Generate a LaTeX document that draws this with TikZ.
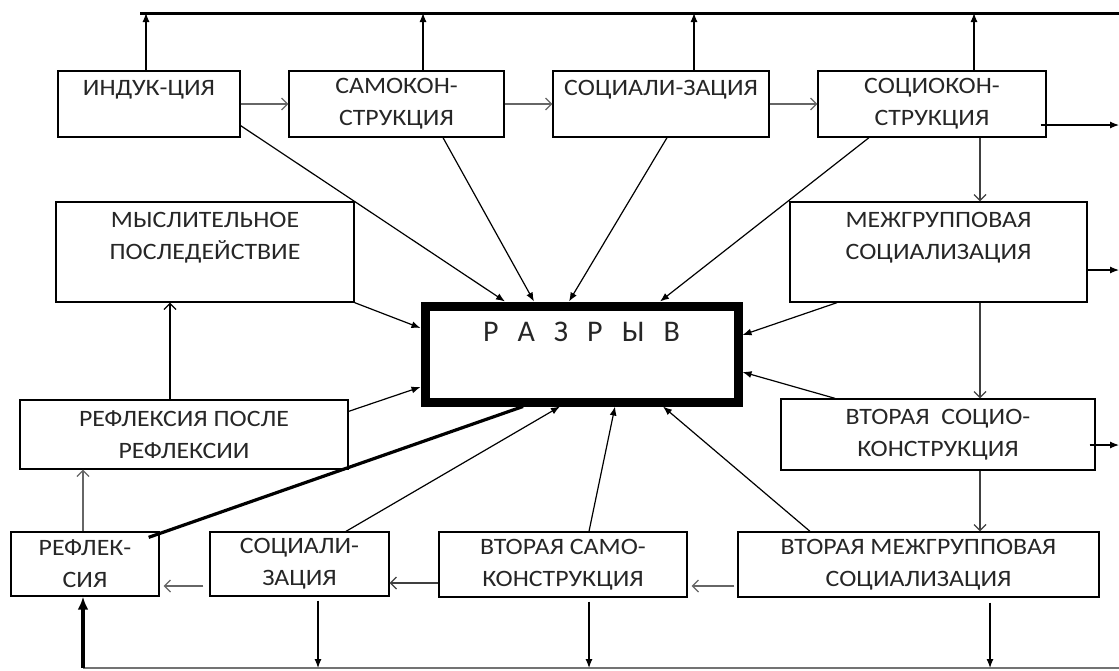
\documentclass[tikz,border=0pt]{standalone}
\usepackage{fontspec}
\setmainfont{Carlito}
\newfontfamily\boxfont{Carlito}[FakeStretch=1.1]
\usetikzlibrary{arrows.meta,calc}
\begin{document}
\begin{tikzpicture}[x=1pt,y=-1pt,
  box/.style={draw, line width=1.3pt, inner sep=0pt, align=center,
    text=black!85, font=\boxfont\fontsize{23.5}{32}\selectfont},
  gap/.style={draw, line width=9pt, inner sep=0pt, align=center,
    text=black!85, font=\fontsize{30}{44}\selectfont},
  tipf/.style={line width=1.2pt, -{Latex[length=9pt,width=7pt]}},
  tipo/.style={line width=1.2pt, -{Straight Barb[length=6pt,width=12pt]}},
  greyo/.style={tipo, draw=black!60},
  heavy/.style={line width=3.2pt},
]
\useasboundingbox (0,0) rectangle (1119,670);

% upper row
\node[box, minimum width=182, minimum height=66] (ind)  at (149,104)   {ИНДУК-ЦИЯ\\\phantom{Ж}};
\node[box, minimum width=215, minimum height=66] (samo) at (396.5,104) {САМОКОН-\\СТРУКЦИЯ};
\node[box, minimum width=216, minimum height=66] (soc)  at (661,104)   {СОЦИАЛИ-ЗАЦИЯ\\\phantom{Ж}};
\node[box, minimum width=228, minimum height=66] (sock) at (932,104)   {СОЦИОКОН-\\СТРУКЦИЯ};

% middle rows
\node[box, minimum width=298, minimum height=100] (mysl) at (205,252)  {МЫСЛИТЕЛЬНОЕ\\ПОСЛЕДЕЙСТВИЕ\\\phantom{Ж}};
\node[box, minimum width=297, minimum height=100] (mezh) at (938.5,252) {МЕЖГРУППОВАЯ\\СОЦИАЛИЗАЦИЯ\\\phantom{Ж}};
\node[gap, minimum width=313, minimum height=96] (razr) at (581.5,354)
  {Р\hspace{19pt}А\hspace{19pt}З\hspace{19pt}Р\hspace{19pt}Ы\hspace{19pt}В\\\phantom{Р}};
\node[box, minimum width=328, minimum height=69] (refp) at (184,434.5) {РЕФЛЕКСИЯ ПОСЛЕ\\РЕФЛЕКСИИ};
\node[box, minimum width=314, minimum height=71] (vsoc) at (938,434.5) {ВТОРАЯ~~СОЦИО-\\КОНСТРУКЦИЯ};

% lower row
\node[box, minimum width=148, minimum height=64] (refl)  at (85,564)    {РЕФЛЕК-\\СИЯ};
\node[box, minimum width=179, minimum height=64] (soc2)  at (299.5,564) {СОЦИАЛИ-\\ЗАЦИЯ};
\node[box, minimum width=248, minimum height=65] (vsamo) at (563,564.5) {ВТОРАЯ САМО-\\КОНСТРУКЦИЯ};
\node[box, minimum width=361, minimum height=65] (vmezh) at (918.5,564.5) {ВТОРАЯ МЕЖГРУППОВАЯ\\СОЦИАЛИЗАЦИЯ};

% upper collecting line
\coordinate (busL) at (140,13);
\coordinate (busR) at (1119,13);
\draw[line width=3pt] (busL) -- (busR);
\coordinate (b1) at (146,13);
\coordinate (b2) at (423,13);
\coordinate (b3) at (694,13);
\coordinate (b4) at (974,13);
\draw[tipf] (b1 |- ind.north)  -- (b1);
\draw[tipf] (b2 |- samo.north) -- (b2);
\draw[tipf] (b3 |- soc.north)  -- (b3);
\draw[tipf] (b4 |- sock.north) -- (b4);

% lower collecting line
\coordinate (dL) at (83,668);
\coordinate (dR) at (1119,668);
\draw[line width=1.3pt, draw=black!55] (dL) -- (dR);
\coordinate (d1) at (318,668);
\coordinate (d2) at (589,668);
\coordinate (d3) at (990,668);
\draw[tipf, shorten <=4pt] (d1 |- soc2.south)  -- (d1);
\draw[tipf, shorten <=4pt] (d2 |- vsamo.south) -- (d2);
\draw[tipf, shorten <=5pt] (d3 |- vmezh.south) -- (d3);
\draw[heavy, -{Latex[length=13pt,width=11pt]}] (dL) -- (dL |- refl.south);

% outputs on the right
\coordinate (r1) at (1119,125);
\coordinate (r2) at (1119,270);
\coordinate (r3) at (1119,445);
\draw[tipf] ($(r1 -| sock.east)+(-6,0)$) -- (r1);
\draw[tipf] (r2 -| mezh.east) -- (r2);
\draw[tipf] ($(r3 -| vsoc.east)+(-6,0)$) -- (r3);

% chain of stages
\draw[greyo] (ind) -- (samo);
\draw[greyo] (samo) -- (soc);
\draw[greyo] (soc) -- (sock);
\coordinate (v1) at (980,0);
\draw[tipo, draw=black!75] (v1 |- sock.south) -- (v1 |- mezh.north);
\draw[tipo, draw=black!75] (v1 |- mezh.south) -- (v1 |- vsoc.north);
\draw[tipo, draw=black!75] (v1 |- vsoc.south) -- (v1 |- vmezh.north);
\coordinate (h1) at (0,586);
\coordinate (h2) at (0,583);
\draw[greyo, shorten <=3pt, shorten >=4pt] (vmezh.west |- h1) -- (vsamo.east |- h1);
\draw[greyo, draw=black!75] (vsamo.west |- h2) -- (soc2.east |- h2);
\draw[greyo, shorten <=6pt, shorten >=4pt] (soc2.west |- h1) -- (refl.east |- h1);
\coordinate (v2) at (83,0);
\draw[greyo] (v2 |- refl.north) -- (v2 |- refp.south);
\coordinate (v3) at (170,0);
\draw[tipo] (v3 |- refp.north) -- (v3 |- mysl.south);

% everything converging on the gap
\draw[tipf] ($(ind.south east)+(0,-12)$) -- (505,0 |- razr.north);
\draw[tipf] (443,0 |- samo.south) -- (534,0 |- razr.north);
\draw[tipf] (667,0 |- soc.south)  -- (569,0 |- razr.north);
\draw[tipf] (869,0 |- sock.south) -- (660,0 |- razr.north);
\draw[tipf] (mysl.south east) -- (razr.west |- 0,328);
\draw[tipf] ($(refp.north east)+(0,12)$) -- (razr.west |- 0,387);
\draw[tipf] (837,0 |- mezh.south) -- (razr.east |- 0,335);
\draw[tipf] (835,0 |- vsoc.north) -- (razr.east |- 0,372);
\draw[tipf] (346,0 |- soc2.north)  -- (560,0 |- razr.south);
\draw[tipf] (589,0 |- vsamo.north) -- (615,0 |- razr.south);
\draw[tipf] (810,0 |- vmezh.north) -- (663,0 |- razr.south);
\draw[heavy] ($(refl.north east)+(-11,6)$) -- (523,0 |- razr.south);
\end{tikzpicture}
\end{document}
